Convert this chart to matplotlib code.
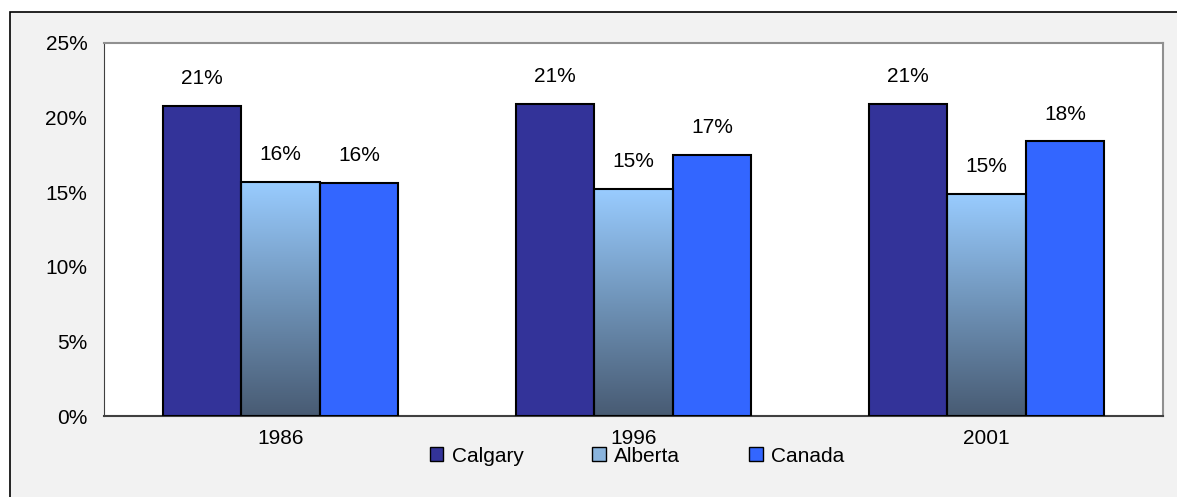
import matplotlib.pyplot as plt
import matplotlib.patches as mpatches
from matplotlib.colors import LinearSegmentedColormap
import numpy as np

plt.rcParams['font.family'] = ['Liberation Sans', 'DejaVu Sans']

# Data
years = ['1986', '1996', '2001']
calgary = [20.8, 20.9, 20.9]
alberta = [15.7, 15.2, 14.9]
canada = [15.6, 17.5, 18.4]
labels_cal = ['21%', '21%', '21%']
labels_alb = ['16%', '15%', '15%']
labels_can = ['16%', '17%', '18%']

FS = 15

fig = plt.figure(figsize=(11.77, 4.97), dpi=100)
fig.patch.set_facecolor('white')

# chart area frame (extends past right/bottom edge)
frame = mpatches.Rectangle((10 / 1177, -0.05), 1.2, 1 - 12 / 497 + 0.05,
                           transform=fig.transFigure, facecolor='#f2f2f2',
                           edgecolor='black', linewidth=1.2, zorder=-10)
fig.patches.append(frame)

ax = fig.add_axes([104 / 1177, 1 - 416 / 497, (1163 - 104) / 1177, (416 - 43) / 497])
ax.set_facecolor('white')

x = np.arange(len(years))
w = 0.222

grad = LinearSegmentedColormap.from_list('alb', ['#485b73', '#6f93b8', '#99ccff'])
gimg = np.linspace(0, 1, 256).reshape(-1, 1)

ax.bar(x - w, calgary, w, color='#333399', edgecolor='black', linewidth=1.5, zorder=3)
ax.bar(x + w, canada, w, color='#3366ff', edgecolor='black', linewidth=1.5, zorder=3)
for xi, v in zip(x, alberta):
    ax.imshow(gimg, extent=(xi - w / 2, xi + w / 2, 0, v), origin='lower',
              cmap=grad, aspect='auto', zorder=2)
ax.bar(x, alberta, w, facecolor='none', edgecolor='black', linewidth=1.5, zorder=3)

for xi, v, t in zip(x - w, calgary, labels_cal):
    ax.text(xi, v + 1.2, t, ha='center', va='bottom', fontsize=FS)
for xi, v, t in zip(x, alberta, labels_alb):
    ax.text(xi, v + 1.2, t, ha='center', va='bottom', fontsize=FS)
for xi, v, t in zip(x + w, canada, labels_can):
    ax.text(xi, v + 1.2, t, ha='center', va='bottom', fontsize=FS)

ax.set_xlim(-0.5, 2.5)
ax.set_ylim(0, 25)
ax.set_yticks([0, 5, 10, 15, 20, 25])
ax.set_yticklabels(['0%', '5%', '10%', '15%', '20%', '25%'], fontsize=FS)
ax.set_xticks(x)
ax.set_xticklabels(years, fontsize=FS)
ax.tick_params(axis='y', length=0, pad=12)
ax.tick_params(axis='x', length=0, pad=9)

ax.spines['left'].set_color('#404040')
ax.spines['bottom'].set_color('#404040')
ax.spines['bottom'].set_linewidth(1.5)
ax.spines['top'].set_color('#909090')
ax.spines['right'].set_color('#909090')
ax.spines['top'].set_linewidth(1.5)
ax.spines['right'].set_linewidth(1.5)

handles = [
    mpatches.Patch(facecolor='#333399', edgecolor='black', label='Calgary'),
    mpatches.Patch(facecolor='#8ab4dd', edgecolor='black', label='Alberta'),
    mpatches.Patch(facecolor='#3366ff', edgecolor='black', label='Canada'),
]
fig.legend(handles=handles, loc='center', bbox_to_anchor=(637 / 1177, 1 - 456 / 497),
           ncol=3, frameon=False, fontsize=FS, handlelength=0.65, handleheight=0.65,
           handletextpad=0.4, columnspacing=3.3, borderpad=0.1)

fig.savefig('out.png', dpi=100, facecolor=fig.get_facecolor())
